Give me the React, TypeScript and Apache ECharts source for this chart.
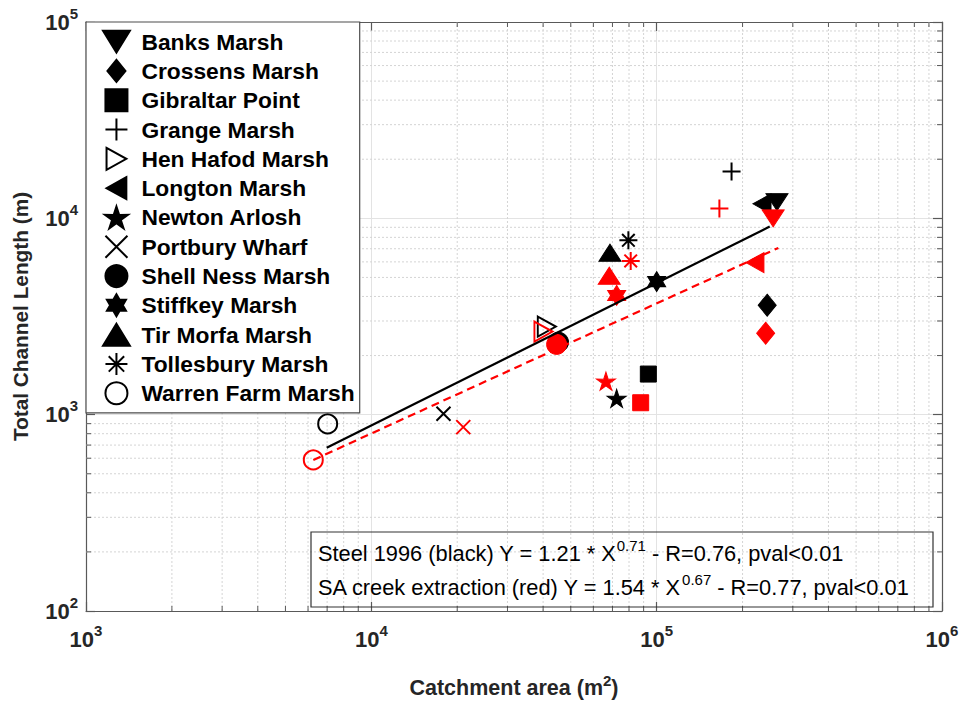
import React, { useEffect, useRef } from 'react';
import * as echarts from 'echarts';

// ---------- data ----------
const MARSHES = [
  'Banks Marsh', 'Crossens Marsh', 'Gibraltar Point', 'Grange Marsh', 'Hen Hafod Marsh',
  'Longton Marsh', 'Newton Arlosh', 'Portbury Wharf', 'Shell Ness Marsh', 'Stiffkey Marsh',
  'Tir Morfa Marsh', 'Tollesbury Marsh', 'Warren Farm Marsh',
];
// Steel 1996 (black)
const STEEL_AREA = [264000, 244000, 93500, 183000, 41200, 234000, 72400, 17900, 45300, 100000, 68600, 79600, 7030];
const STEEL_LENGTH = [12100, 3610, 1610, 17300, 2810, 11850, 1210, 1010, 2340, 4760, 6680, 7730, 897];
// SA creek extraction (red)
const SA_AREA = [256000, 241000, 87900, 165900, 40100, 221000, 66400, 21000, 44600, 72400, 68200, 81100, 6260];
const SA_LENGTH = [10000, 2600, 1150, 11230, 2650, 5950, 1480, 864, 2280, 4050, 5100, 6070, 588];
// fitted lines (end points)
const STEEL_FIT_AREA = [6975, 249000];
const STEEL_FIT_LENGTH = [678, 9080];
const SA_FIT_AREA = [6262, 267000];
const SA_FIT_LENGTH = [588, 7070];
// axes
const X_TICK_EXP = ['3', '4', '5', '6'];
const Y_TICK_EXP = ['2', '3', '4', '5'];
const X_MINOR = [2e3, 3e3, 4e3, 5e3, 6e3, 7e3, 8e3, 9e3, 2e4, 3e4, 4e4, 5e4, 6e4, 7e4, 8e4, 9e4, 2e5, 3e5, 4e5, 5e5, 6e5, 7e5, 8e5, 9e5];
const Y_MINOR = [200, 300, 400, 500, 600, 700, 800, 900, 2e3, 3e3, 4e3, 5e3, 6e3, 7e3, 8e3, 9e3, 2e4, 3e4, 4e4, 5e4, 6e4, 7e4, 8e4, 9e4];
const FIT_TEXTS = [
  { pre: 'Steel 1996 (black) Y = 1.21 * X', exp: '0.71', post: ' - R=0.76, pval<0.01' },
  { pre: 'SA creek extraction (red) Y = 1.54 * X', exp: '0.67', post: ' - R=0.77, pval<0.01' },
];

// ---------- styles ----------
const FONT = '"Liberation Sans", Arial, Helvetica, sans-serif';
const X_MIN = 1e3, X_MAX = 1e6, Y_MIN = 1e2, Y_MAX = 1e5;
const TRI_DOWN = 'path://M0,0L22,0L11,18Z';
const TRI_UP = 'path://M11,0L22,18L0,18Z';
const TRI_RIGHT = 'path://M0,0L18,10L0,20Z';
const TRI_LEFT = 'path://M18,0L0,10L18,20Z';
const DIAMOND = 'path://M9,0L18,11L9,22L0,11Z';
const SQUARE = 'path://M0,0L10,0L10,10L0,10Z';
const PLUS = 'path://M5,0L5,10M0,5L10,5';
const CROSS = 'path://M0,0L10,10M10,0L0,10';
const STAR5 = 'path://M10,0L12.23,6.93L19.51,6.91L13.61,11.17L15.88,18.09L10,13.8L4.12,18.09L6.39,11.17L0.49,6.91L7.77,6.93Z';
const HEXAGRAM = 'path://M10,0L12.89,5L18.66,5L15.77,10L18.66,15L12.89,15L10,20L7.11,15L1.34,15L4.23,10L1.34,5L7.11,5Z';
const ASTERISK = 'path://M5,0L5,10M0,5L10,5M1.5,1.5L8.5,8.5M8.5,1.5L1.5,8.5';

type Mk = { symbol: string; size: number[]; open?: boolean; lineOnly?: boolean };
const MARKERS: Mk[] = [
  { symbol: TRI_DOWN, size: [22, 17] },
  { symbol: DIAMOND, size: [18, 22] },
  { symbol: SQUARE, size: [16, 16] },
  { symbol: PLUS, size: [18, 18], lineOnly: true },
  { symbol: TRI_RIGHT, size: [18, 20], open: true },
  { symbol: TRI_LEFT, size: [18, 20] },
  { symbol: STAR5, size: [19, 18] },
  { symbol: CROSS, size: [14, 14], lineOnly: true },
  { symbol: 'circle', size: [20, 20] },
  { symbol: HEXAGRAM, size: [18, 20] },
  { symbol: TRI_UP, size: [22, 17] },
  { symbol: ASTERISK, size: [18, 18], lineOnly: true },
  { symbol: 'circle', size: [19, 19], open: true },
];

function scatterSeries(name: string, x: number, y: number, mk: Mk, color: string) {
  const clear = 'rgba(255,255,255,0)';
  return {
    type: 'scatter',
    name,
    xAxisIndex: 0,
    yAxisIndex: 0,
    data: [[x, y]],
    symbol: mk.symbol,
    symbolSize: mk.size,
    symbolKeepAspect: false,
    z: 3,
    itemStyle: {
      color: mk.open || mk.lineOnly ? clear : color,
      borderColor: color,
      borderWidth: mk.open || mk.lineOnly ? 2 : 1,
      opacity: 1,
    },
    emphasis: { disabled: true },
  };
}

export default function App() {
  const ref = useRef<HTMLDivElement>(null);
  useEffect(() => {
    if (!ref.current) return;
    const chart = echarts.init(ref.current, undefined, { renderer: 'svg' });

    const supLabel = (exps: string[], first: number) => (v: number) =>
      `{b|10}{s|${exps[Math.round(Math.log10(v)) - first]}}`;
    const tickRich = {
      b: { fontSize: 22, fontWeight: 'bold', color: '#262626', fontFamily: FONT },
      s: { fontSize: 15, fontWeight: 'bold', color: '#262626', fontFamily: FONT, padding: [0, 0, 18, 0] },
    };
    const axisLineStyle = { color: '#595959', width: 1.2 };

    const series: any[] = [];
    // minor grid + minor ticks (vertical)
    series.push({
      type: 'custom',
      xAxisIndex: 0,
      yAxisIndex: 0,
      silent: true,
      z: 1,
      data: X_MINOR.map((v) => [v, Y_MIN]),
      renderItem: (_p: any, api: any) => {
        const v = api.value(0);
        const b = api.coord([v, Y_MIN]);
        const t = api.coord([v, Y_MAX]);
        return {
          type: 'group',
          children: [
            { type: 'line', shape: { x1: b[0], y1: b[1], x2: t[0], y2: t[1] }, style: { stroke: '#d4d4d4', lineWidth: 1, lineDash: [2, 2] } },
            { type: 'line', shape: { x1: b[0], y1: b[1], x2: b[0], y2: b[1] - 5 }, style: { stroke: '#595959', lineWidth: 1 } },
            { type: 'line', shape: { x1: t[0], y1: t[1], x2: t[0], y2: t[1] + 5 }, style: { stroke: '#595959', lineWidth: 1 } },
          ],
        };
      },
    });
    // minor grid + minor ticks (horizontal)
    series.push({
      type: 'custom',
      xAxisIndex: 0,
      yAxisIndex: 0,
      silent: true,
      z: 1,
      data: Y_MINOR.map((v) => [X_MIN, v]),
      renderItem: (_p: any, api: any) => {
        const v = api.value(1);
        const l = api.coord([X_MIN, v]);
        const r = api.coord([X_MAX, v]);
        return {
          type: 'group',
          children: [
            { type: 'line', shape: { x1: l[0], y1: l[1], x2: r[0], y2: r[1] }, style: { stroke: '#d4d4d4', lineWidth: 1, lineDash: [2, 2] } },
            { type: 'line', shape: { x1: l[0], y1: l[1], x2: l[0] + 5, y2: l[1] }, style: { stroke: '#595959', lineWidth: 1 } },
            { type: 'line', shape: { x1: r[0], y1: r[1], x2: r[0] - 5, y2: r[1] }, style: { stroke: '#595959', lineWidth: 1 } },
          ],
        };
      },
    });

    MARSHES.forEach((m, i) => {
      series.push(scatterSeries(m, STEEL_AREA[i], STEEL_LENGTH[i], MARKERS[i], '#000000'));
    });
    MARSHES.forEach((m, i) => {
      series.push(scatterSeries(m + ' (SA)', SA_AREA[i], SA_LENGTH[i], MARKERS[i], '#ff0000'));
    });

    series.push({
      type: 'line',
      name: 'Steel fit',
      xAxisIndex: 0,
      yAxisIndex: 0,
      data: STEEL_FIT_AREA.map((x, i) => [x, STEEL_FIT_LENGTH[i]]),
      showSymbol: false,
      symbol: 'none',
      z: 4,
      lineStyle: { color: '#000000', width: 2.2, type: 'solid' },
      emphasis: { disabled: true },
    });
    series.push({
      type: 'line',
      name: 'SA fit',
      xAxisIndex: 0,
      yAxisIndex: 0,
      data: SA_FIT_AREA.map((x, i) => [x, SA_FIT_LENGTH[i]]),
      showSymbol: false,
      symbol: 'none',
      z: 4,
      lineStyle: { color: '#ff0000', width: 2.2, type: [8, 5] },
      emphasis: { disabled: true },
    });

    const fitRich = {
      t: { fontSize: 21.8, color: '#000', fontFamily: FONT },
      s: { fontSize: 15, color: '#000', fontFamily: FONT, padding: [0, 0, 15, 0] },
    };

    chart.setOption({
      animation: false,
      backgroundColor: '#ffffff',
      grid: { left: 86, top: 22, right: 25, bottom: 83, containLabel: false },
      xAxis: [
        {
          type: 'log', logBase: 10, min: X_MIN, max: X_MAX, position: 'bottom',
          name: '{t|Catchment area (m}{s|2}{t|)}',
          nameLocation: 'middle', nameGap: 62,
          nameTextStyle: {
            rich: {
              t: { fontSize: 21.5, fontWeight: 'bold', color: '#262626', fontFamily: FONT },
              s: { fontSize: 15, fontWeight: 'bold', color: '#262626', fontFamily: FONT, padding: [0, 0, 15, 0] },
            },
          },
          axisLine: { show: true, lineStyle: axisLineStyle },
          axisTick: { show: true, inside: true, length: 9, lineStyle: axisLineStyle },
          axisLabel: { formatter: supLabel(X_TICK_EXP, 3), rich: tickRich, margin: 12 },
          splitLine: { show: true, lineStyle: { color: '#e3e3e3', width: 1 } },
          minorTick: { show: false },
        },
        {
          type: 'log', logBase: 10, min: X_MIN, max: X_MAX, position: 'top',
          axisLine: { show: true, lineStyle: axisLineStyle },
          axisTick: { show: true, inside: true, length: 9, lineStyle: axisLineStyle },
          axisLabel: { show: false },
          splitLine: { show: false },
        },
      ],
      yAxis: [
        {
          type: 'log', logBase: 10, min: Y_MIN, max: Y_MAX, position: 'left',
          name: 'Total Channel Length (m)',
          nameLocation: 'middle', nameGap: 55,
          nameTextStyle: { fontSize: 20.8, fontWeight: 'bold', color: '#262626', fontFamily: FONT },
          axisLine: { show: true, lineStyle: axisLineStyle },
          axisTick: { show: true, inside: true, length: 9, lineStyle: axisLineStyle },
          axisLabel: { formatter: supLabel(Y_TICK_EXP, 2), rich: tickRich, margin: 8 },
          splitLine: { show: true, lineStyle: { color: '#e3e3e3', width: 1 } },
        },
        {
          type: 'log', logBase: 10, min: Y_MIN, max: Y_MAX, position: 'right',
          axisLine: { show: true, lineStyle: axisLineStyle },
          axisTick: { show: true, inside: true, length: 9, lineStyle: axisLineStyle },
          axisLabel: { show: false },
          splitLine: { show: false },
        },
      ],
      legend: {
        show: true,
        orient: 'vertical',
        left: 86,
        top: 22,
        data: MARSHES,
        selectedMode: false,
        itemWidth: 40,
        itemHeight: 22,
        itemGap: 0,
        padding: [5, 5, 5, 16],
        backgroundColor: '#ffffff',
        borderColor: '#4d4d4d',
        borderWidth: 1.2,
        textStyle: { fontSize: 22.8, fontWeight: 'bold', color: '#000', fontFamily: FONT, lineHeight: 29.3 },
        z: 20,
      },
      graphic: [
        {
          type: 'rect',
          z: 30,
          shape: { x: 311, y: 532, width: 622, height: 75 },
          style: { fill: 'rgba(255,255,255,0)', stroke: '#333333', lineWidth: 1.2 },
        },
        ...FIT_TEXTS.map((f, i) => ({
          type: 'text',
          z: 30,
          x: 318,
          y: 553 + i * 34,
          style: {
            text: `{t|${f.pre}}{s|${f.exp}}{t|${f.post}}`,
            rich: fitRich,
            verticalAlign: 'middle',
            align: 'left',
          },
        })),
      ],
      series,
    });
    return () => chart.dispose();
  }, []);
  return (
    <div
      ref={ref}
      style={{ position: 'absolute', left: 0, top: 0, width: 967, height: 704, background: '#fff' }}
    />
  );
}
